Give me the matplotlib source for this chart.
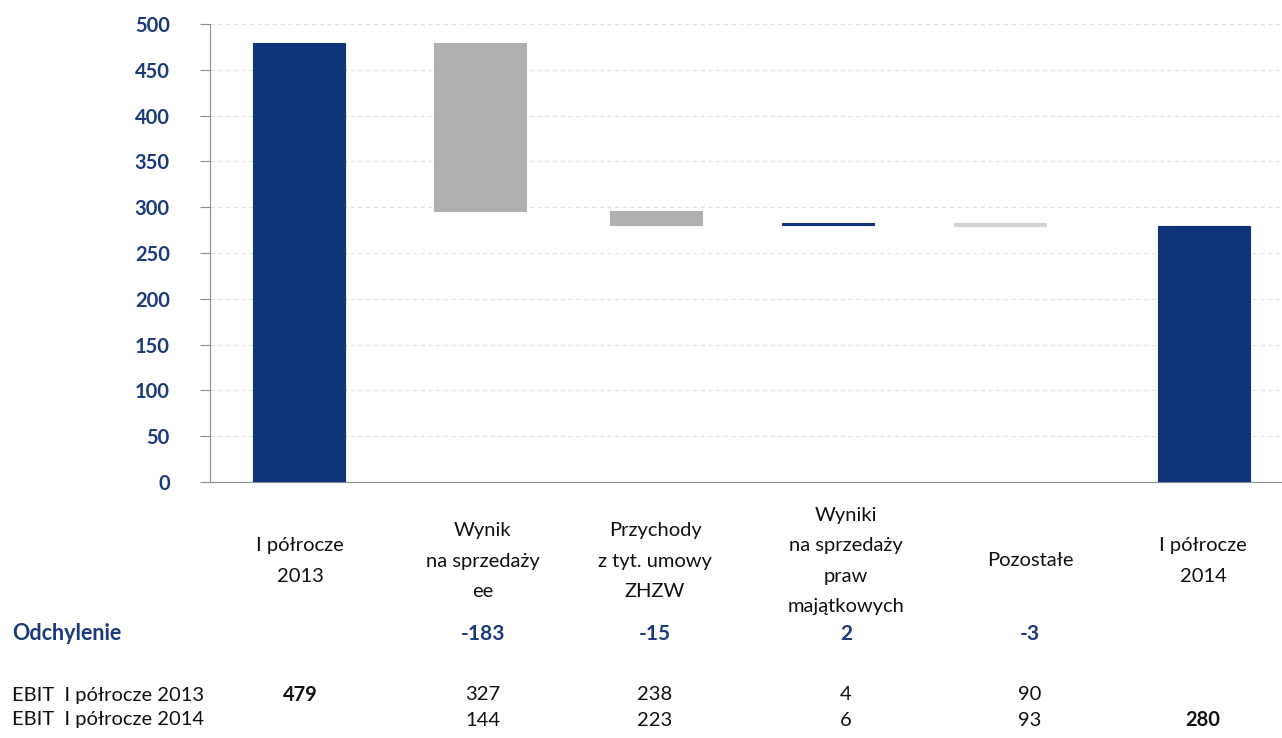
import numpy as np
import matplotlib.pyplot as plt
from matplotlib.transforms import blended_transform_factory

plt.rcParams['font.family'] = ['Lato', 'DejaVu Sans']

# dane
kategorie = ['I półrocze\n2013', 'Wynik\nna sprzedaży\nee', 'Przychody\nz tyt. umowy\nZHZW',
             'Wyniki\nna sprzedaży\npraw\nmajątkowych', 'Pozostałe', 'I półrocze\n2014']
ebit_2013 = 479
ebit_2014 = 280
odchylenie = [-183, -15, 2, -3]
wiersz_2013 = ['479', '327', '238', '4', '90', '']
wiersz_2014 = ['', '144', '223', '6', '93', '280']
yticks = [0, 50, 100, 150, 200, 250, 300, 350, 400, 450, 500]

NAVY = '#0f347a'
TXT = '#1a3a7c'
kolory = [NAVY, '#b0b0b0', '#b0b0b0', NAVY, '#d2d2d2', NAVY]

# pozycje slupkow i kolumn tabeli
x_bar = [0, 1.052, 2.076, 3.076, 4.076, 5.26]
x_txt = [0.006, 1.07, 2.07, 3.18, 4.25, 5.256]

# schodki
dno = [0]
wys = [ebit_2013]
poziom = ebit_2013
for d in odchylenie:
    nowy = poziom + d
    dno.append(min(poziom, nowy))
    wys.append(abs(d))
    poziom = nowy
dno.append(0)
wys.append(ebit_2014)

fig = plt.figure(figsize=(12.82, 7.38), dpi=100)
ax = fig.add_axes([210 / 1282, 1 - 482 / 738, 1 - 210 / 1282, 458 / 738])

ax.bar(x_bar, wys, bottom=dno, width=0.535, color=kolory, edgecolor=kolory,
       linewidth=0.8, zorder=3)

ax.set_xlim(-0.517, 5.715)
ax.set_ylim(0, 500)
ax.set_yticks(yticks)
ax.set_xticks([])
ax.grid(axis='y', linestyle=(0, (4, 3)), color='#e2e2e2', linewidth=0.8, zorder=0)
for s in ['top', 'right']:
    ax.spines[s].set_visible(False)
ax.spines['left'].set_color('#8c8c8c')
ax.spines['bottom'].set_color('#8c8c8c')
ax.tick_params(axis='y', length=7, color='#8c8c8c', pad=22,
               labelsize=14.5, labelcolor=TXT)
for lab in ax.get_yticklabels():
    lab.set_fontweight('bold')

tr = blended_transform_factory(ax.transData, fig.transFigure)
FS = 14.5

def fy(py):
    return 1 - py / 738

for x, k in zip(x_txt, kategorie):
    ax.text(x, fy(561), k, transform=tr, ha='center', va='center',
            fontsize=FS, linespacing=1.95, color='#111111')

fig.text(12 / 1282, fy(634), 'Odchylenie', ha='left', va='center',
         fontsize=15.5, fontweight='bold', color=TXT)
for x, d in zip(x_txt[1:5], odchylenie):
    ax.text(x, fy(634), str(d), transform=tr, ha='center', va='center',
            fontsize=15, fontweight='bold', color=TXT)

fig.text(12 / 1282, fy(695), 'EBIT  I półrocze 2013', ha='left', va='center',
         fontsize=FS, color='#111111')
fig.text(12 / 1282, fy(720), 'EBIT  I półrocze 2014', ha='left', va='center',
         fontsize=FS, color='#111111')
for i, x in enumerate(x_txt):
    gr = 'bold' if i in (0, 5) else 'normal'
    ax.text(x, fy(695), wiersz_2013[i], transform=tr, ha='center', va='center',
            fontsize=FS, fontweight=gr, color='#111111')
    ax.text(x, fy(720), wiersz_2014[i], transform=tr, ha='center', va='center',
            fontsize=FS, fontweight=gr, color='#111111')

fig.savefig('out.png', dpi=100)
